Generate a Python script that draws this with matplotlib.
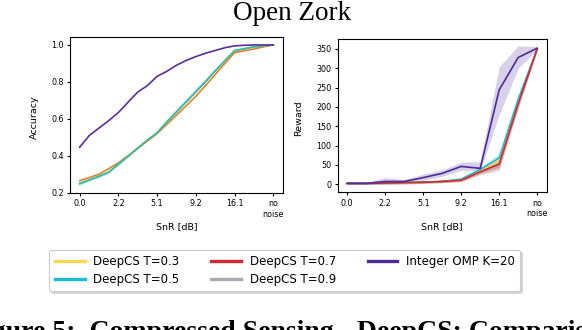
import matplotlib
matplotlib.use("Agg")
import matplotlib.pyplot as plt
from matplotlib.lines import Line2D
import numpy as np

# ---------------- data ----------------
snr_labels = ["0.0", "2.2", "5.1", "9.2", "16.1", "no\nnoise"]

# Accuracy panel (21 sample points, ticks every 4th)
acc_omp = [0.446, 0.51, 0.55, 0.59, 0.634, 0.69, 0.745, 0.78, 0.83, 0.857, 0.89,
           0.916, 0.937, 0.955, 0.97, 0.985, 0.995, 0.998, 1.0, 1.0, 1.0]
acc_yellow = [0.252, 0.268, 0.288, 0.31, 0.352, 0.395, 0.44, 0.482, 0.522, 0.582, 0.636,
              0.692, 0.746, 0.802, 0.86, 0.915, 0.968, 0.979, 0.989, 0.995, 1.0]
acc_cyan = [0.245, 0.265, 0.285, 0.308, 0.35, 0.395, 0.44, 0.485, 0.525, 0.585, 0.64,
            0.695, 0.75, 0.805, 0.86, 0.915, 0.965, 0.978, 0.988, 0.995, 1.0]
acc_orange = [0.265, 0.282, 0.30, 0.33, 0.362, 0.40, 0.44, 0.48, 0.52, 0.57, 0.62,
              0.67, 0.722, 0.78, 0.84, 0.90, 0.958, 0.968, 0.978, 0.99, 1.0]
acc_teal = [0.25, 0.27, 0.29, 0.312, 0.356, 0.397, 0.442, 0.484, 0.524, 0.582, 0.636,
            0.69, 0.745, 0.80, 0.86, 0.915, 0.97, 0.98, 0.99, 0.995, 1.0]

# Reward panel (11 sample points, ticks every 2nd)
rew_omp = [2, 2, 7, 7, 17, 28, 46, 41, 244, 328, 352]
rew_omp_lo = [0, 0, 2, 3, 10, 20, 36, 35, 180, 300, 348]
rew_omp_hi = [5, 5, 17, 12, 26, 37, 57, 58, 304, 358, 356]
rew_t03 = [2, 2, 3, 4, 5, 7, 11, 34, 60, 212, 350]
rew_t05 = [2, 2, 3, 4, 5, 7, 13, 38, 68, 220, 350]
rew_t07 = [2, 2, 3, 4, 5, 7, 10, 32, 52, 208, 350]
rew_t09 = [2, 2, 3, 4, 5, 7, 11, 30, 46, 205, 350]
rew_spread = [2, 2, 3, 3, 3, 3, 4, 6, 12, 10, 2]

legend_labels = ["DeepCS T=0.3", "DeepCS T=0.5", "DeepCS T=0.7", "DeepCS T=0.9",
                 "Integer OMP K=20"]

# ---------------- style ----------------
C_Y = "#fdd54f"
C_C = "#1cbcd6"
C_R = "#d6272e"
C_G = "#aba8af"
C_P = "#4f2a99"

TICK_FS = 5.8
LAB_FS = 6.8

fig = plt.figure(figsize=(5.82, 3.30), dpi=100)

axL = fig.add_axes([70 / 582, 1 - 193 / 330, 213 / 582, 156 / 330])
axR = fig.add_axes([337.7 / 582, 1 - 192.3 / 330, 209 / 582, 153 / 330])

# left panel
xL = np.arange(len(acc_omp))
lw = 1.2
axL.plot(xL, acc_yellow, color="#dfe58a", lw=lw)
axL.plot(xL, acc_cyan, color="#6fcde0", lw=lw)
axL.plot(xL, acc_orange, color="#e5822d", lw=lw)
axL.plot(xL, acc_teal, color="#3cbc9c", lw=lw)
axL.plot(xL, acc_omp, color="#5b2d9e", lw=lw)
axL.set_xticks(xL[::4])
axL.set_xticklabels(snr_labels)
axL.set_ylim(0.198, 1.043)
axL.set_yticks([0.2, 0.4, 0.6, 0.8, 1.0])
axL.set_ylabel("Accuracy", fontsize=LAB_FS)
axL.set_xlabel("SnR [dB]", fontsize=LAB_FS)
axL.xaxis.set_label_coords(0.502, -0.186)
axL.yaxis.set_label_coords(-0.146, 0.487)

# right panel
xR = np.arange(len(rew_omp))
for vals, col in [(rew_t09, C_G), (rew_t03, C_Y), (rew_t05, C_C), (rew_t07, C_R)]:
    v = np.array(vals, float)
    s = np.array(rew_spread, float)
    axR.fill_between(xR, v - s, v + s, color=col, alpha=0.25, lw=0)
axR.fill_between(xR, rew_omp_lo, rew_omp_hi, color=C_P, alpha=0.22, lw=0)
axR.plot(xR, rew_t09, color=C_G, lw=lw)
axR.plot(xR, rew_t03, color=C_Y, lw=lw)
axR.plot(xR, rew_t05, color=C_C, lw=lw)
axR.plot(xR, rew_t07, color=C_R, lw=lw)
axR.plot(xR, rew_omp, color=C_P, lw=lw)
axR.set_xticks(xR[::2])
axR.set_xticklabels(snr_labels)
axR.set_ylim(-21, 375)
axR.set_yticks(range(0, 351, 50))
axR.set_ylabel("Reward", fontsize=LAB_FS)
axR.set_xlabel("SnR [dB]", fontsize=LAB_FS)
axR.xaxis.set_label_coords(0.497, -0.194)
axR.yaxis.set_label_coords(-0.166, 0.486)

for ax in (axL, axR):
    ax.tick_params(labelsize=TICK_FS, length=2.5, width=0.8, pad=2)
    for sp in ax.spines.values():
        sp.set_linewidth(0.8)

# legend
handles = [Line2D([], [], color=c, lw=2.4) for c in (C_Y, C_C, C_R, C_G, C_P)]
leg = fig.legend(handles, legend_labels, ncol=3, loc="upper left",
                 bbox_to_anchor=(49.3 / 582, 1 - 250 / 330),
                 fontsize=8.45, frameon=True,
                 shadow={"color": "#d4d4d4", "alpha": 1.0, "ox": 1.5, "oy": -1.5},
                 fancybox=True,
                 handlelength=2.55, columnspacing=2.7, labelspacing=0.4,
                 borderpad=0.45, handletextpad=0.74, borderaxespad=0)
leg.get_frame().set_edgecolor("#cccccc")
leg.get_frame().set_linewidth(0.8)

# title and caption
fig.text(292 / 582, 1 - 20 / 330, "Open Zork", ha="center", va="baseline",
         fontsize=19.5, family="Liberation Serif")
fig.text(-33 / 582, 1 - 339 / 330, "Figure 5:  Compressed Sensing - DeepCS: Comparison",
         ha="left", va="baseline", fontsize=20, fontweight="bold",
         family="Liberation Serif")

fig.savefig("out.png", dpi=100)
